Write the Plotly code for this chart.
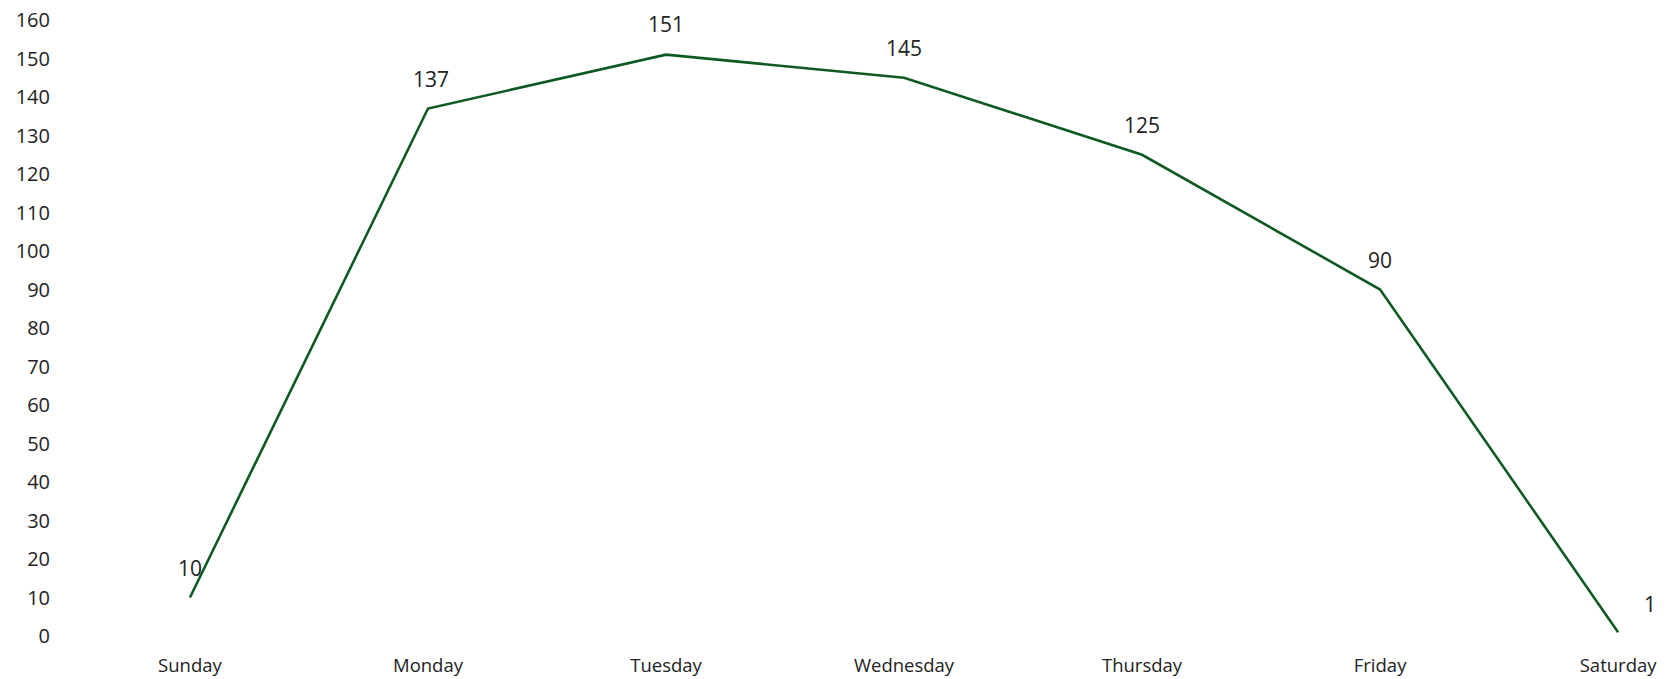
import plotly.graph_objects as go

days = ["Sunday", "Monday", "Tuesday", "Wednesday", "Thursday", "Friday", "Saturday"]
values = [10, 137, 151, 145, 125, 90, 1]
label_xshift = [0, 3, 0, 0, 0, 0, 32]
label_yshift = [30, 30, 31, 30, 30, 30, 28]

FONT = "Open Sans, Liberation Sans, sans-serif"

fig = go.Figure()
fig.add_trace(go.Scatter(
    x=days, y=values, mode="lines",
    line=dict(color="#0f5a22", width=2.6),
    hoverinfo="x+y",
))

for d, v, xs, ys in zip(days, values, label_xshift, label_yshift):
    fig.add_annotation(x=d, y=v, text=str(v), showarrow=False,
                       xshift=xs, yshift=ys,
                       font=dict(family=FONT, size=21, color="#222222"))

fig.update_layout(
    width=1671, height=679,
    margin=dict(l=55, r=31, t=20, b=43),
    paper_bgcolor="white", plot_bgcolor="white",
    showlegend=False,
    xaxis=dict(type="category", range=[-0.567, 6.092], showgrid=False, showline=False,
               zeroline=False, ticks="", ticklabelstandoff=16, automargin=False,
               tickfont=dict(family=FONT, size=18.5, color="#222222")),
    yaxis=dict(range=[0, 160], dtick=10, showgrid=False, showline=False, zeroline=False,
               ticks="", ticklabelstandoff=4, automargin=False, ticklabeloverflow="allow",
               tickfont=dict(family=FONT, size=20, color="#222222")),
)

fig.write_html("out.html",
               config={"displayModeBar": False},
               post_script="document.body.style.margin='0';document.body.style.overflow='hidden';")
